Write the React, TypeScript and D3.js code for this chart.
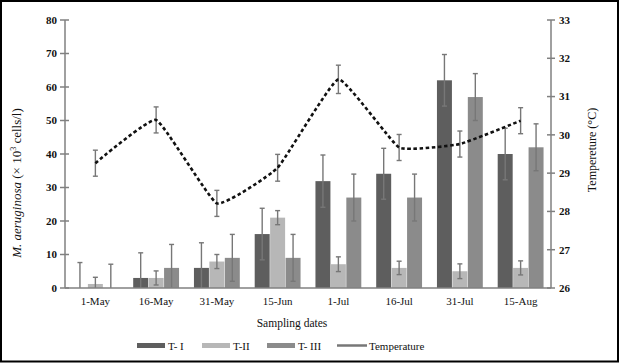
import * as d3 from 'd3';

const dates = ['1-May', '16-May', '31-May', '15-Jun', '1-Jul', '16-Jul', '31-Jul', '15-Aug'];
const seriesNames = ['T- I', 'T-II', 'T- III'];
const seriesColors = ['#5e5e5e', '#b7b7b7', '#8b8b8b'];

const t1 = [0, 3, 6, 16.1, 31.9, 34.1, 62, 40];
const t1Err = [7.6, 7.5, 7.5, 7.7, 7.8, 7.6, 7.7, 7.7];
const t2 = [1.2, 3, 7.9, 21, 7.1, 6, 5, 6];
const t2Err = [2, 2.1, 2.1, 2.1, 2.2, 2, 2.2, 2.1];
const t3 = [0, 6, 9, 9, 27, 27, 57, 42];
const t3Err = [7.1, 7, 7, 7, 7, 7, 7, 7];

const temp = [29.26, 30.39, 28.21, 29.14, 31.45, 29.67, 29.76, 30.37];
const tempErr = [0.34, 0.34, 0.34, 0.35, 0.37, 0.34, 0.34, 0.34];

const leftTicks = [0, 10, 20, 30, 40, 50, 60, 70, 80];
const rightTicks = [26, 27, 28, 29, 30, 31, 32, 33];

const W = 620;
const H = 363;
const margin = { left: 65, right: 69, top: 20, bottom: 75 };
const serif = '"Liberation Serif", "Times New Roman", serif';
const axisColor = '#808080';
const errColor = '#777';

export default function App() {
  const plotR = W - margin.right;
  const plotB = H - margin.bottom;

  const x0 = d3.scaleBand<string>().domain(dates).range([margin.left, plotR]).paddingInner(0.23).paddingOuter(0.115);
  const x1 = d3.scaleBand<string>().domain(seriesNames).range([0, x0.bandwidth()]).padding(0.03);
  const y = d3.scaleLinear().domain([0, 80]).range([plotB, margin.top]);
  const yT = d3.scaleLinear().domain([26, 33]).range([plotB, margin.top]);

  const series = [
    { name: seriesNames[0], vals: t1, errs: t1Err, color: seriesColors[0] },
    { name: seriesNames[1], vals: t2, errs: t2Err, color: seriesColors[1] },
    { name: seriesNames[2], vals: t3, errs: t3Err, color: seriesColors[2] },
  ];

  const cx = (d: string) => (x0(d) ?? 0) + x0.bandwidth() / 2;

  // smoothed but close to straight, like the spreadsheet's line
  const tempLine = d3
    .line<number>()
    .x((_, i) => cx(dates[i]))
    .y((v) => yT(v))
    .curve(d3.curveCardinal.tension(0.65));

  const cap = 2.5;

  const errBar = (xc: number, top: number, bot: number, key: string) => (
    <g key={key} stroke={errColor} strokeWidth={1.4}>
      <line x1={xc} x2={xc} y1={top} y2={bot} />
      <line x1={xc - cap} x2={xc + cap} y1={top} y2={top} />
      {bot < plotB - 0.5 && <line x1={xc - cap} x2={xc + cap} y1={bot} y2={bot} />}
    </g>
  );

  const legendItems = [
    { x: 137, label: seriesNames[0], color: seriesColors[0] },
    { x: 202, label: seriesNames[1], color: seriesColors[1] },
    { x: 267, label: seriesNames[2], color: seriesColors[2] },
  ];

  return (
    <div style={{ position: 'absolute', left: 0, top: 0 }}>
      <svg width={W} height={H} style={{ display: 'block', background: '#fff' }} fontFamily={serif}>
        <rect x={1} y={1} width={W - 3} height={H - 2.5} fill="#fff" stroke="#000" strokeWidth={2} />

        {/* bars */}
        {series.map((s) =>
          dates.map((d, i) => (
            <rect
              key={s.name + d}
              x={(x0(d) ?? 0) + (x1(s.name) ?? 0)}
              y={y(s.vals[i])}
              width={x1.bandwidth()}
              height={plotB - y(s.vals[i])}
              fill={s.color}
            />
          ))
        )}

        {/* bar error bars */}
        {series.map((s) =>
          dates.map((d, i) => {
            const xc = (x0(d) ?? 0) + (x1(s.name) ?? 0) + x1.bandwidth() / 2;
            const top = y(s.vals[i] + s.errs[i]);
            const bot = y(Math.max(0, s.vals[i] - s.errs[i]));
            return errBar(xc, top, bot, 'e' + s.name + d);
          })
        )}

        {/* temperature error bars */}
        {dates.map((d, i) => errBar(cx(d), yT(temp[i] + tempErr[i]), yT(temp[i] - tempErr[i]), 't' + d))}

        <path d={tempLine(temp) ?? ''} fill="none" stroke="#111" strokeWidth={2.6} strokeDasharray="3.5,2.6" />

        {/* axes */}
        <g stroke={axisColor} strokeWidth={1.5}>
          <line x1={margin.left} x2={margin.left} y1={margin.top} y2={plotB} />
          <line x1={plotR} x2={plotR} y1={margin.top} y2={plotB} />
          <line x1={margin.left} x2={plotR} y1={plotB} y2={plotB} />
          {leftTicks.map((t) => (
            <line key={'lt' + t} x1={margin.left - 5} x2={margin.left + 4} y1={y(t)} y2={y(t)} />
          ))}
          {rightTicks.map((t) => (
            <line key={'rt' + t} x1={plotR - 4} x2={plotR + 4} y1={yT(t)} y2={yT(t)} />
          ))}
        </g>

        <g fontSize={11} fontWeight="bold" fill="#111">
          {leftTicks.map((t) => (
            <text key={'ll' + t} x={margin.left - 8} y={y(t)} dy="0.35em" textAnchor="end">
              {t}
            </text>
          ))}
          {rightTicks.map((t) => (
            <text key={'rl' + t} x={plotR + 8} y={yT(t)} dy="0.35em" textAnchor="start">
              {t}
            </text>
          ))}
        </g>

        <g fontSize={11} fill="#111">
          {dates.map((d) => (
            <text key={'xl' + d} x={cx(d)} y={plotB + 17} textAnchor="middle">
              {d}
            </text>
          ))}
        </g>

        <text x={292} y={327} textAnchor="middle" fontSize={11.5} fill="#111">
          Sampling dates
        </text>

        <text transform="translate(21,183) rotate(-90)" textAnchor="middle" fontSize={13} fill="#111">
          <tspan fontStyle="italic">M. aeruginosa</tspan>
          <tspan> (× 10</tspan>
          <tspan fontSize={8} dy={-5}>3</tspan>
          <tspan dy={5}> cells/l)</tspan>
        </text>

        <text transform="translate(596,150) rotate(-90)" textAnchor="middle" fontSize={12} fill="#111">
          Tempereture (°C)
        </text>

        {/* legend */}
        {legendItems.map((it) => (
          <g key={'lg' + it.label}>
            <rect x={it.x} y={343} width={28} height={5} fill={it.color} />
            <text x={it.x + 31} y={349.5} fontSize={11} fill="#111">
              {it.label}
            </text>
          </g>
        ))}
        <line x1={337} x2={367} y1={345.5} y2={345.5} stroke="#777" strokeWidth={2.5} />
        <text x={369} y={349.5} fontSize={11} fill="#111">
          Temperature
        </text>
      </svg>
    </div>
  );
}
